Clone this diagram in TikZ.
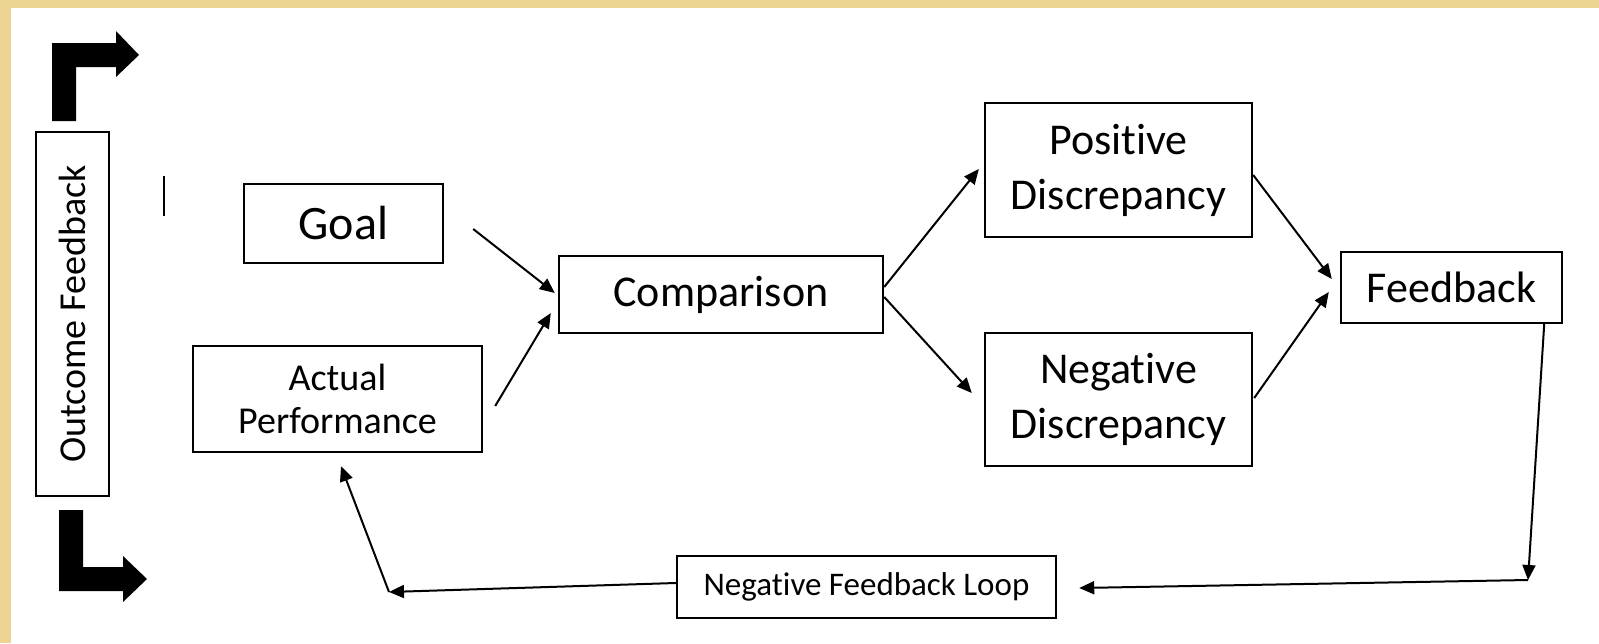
\documentclass[tikz,border=0pt]{standalone}
\usepackage{fontspec}
\setmainfont{Carlito}[RawFeature={-liga,-clig,-calt,-dlig,-rlig}]
\usetikzlibrary{calc,arrows.meta}
\definecolor{parch}{RGB}{236,212,146}
% keep t and i as separate glyphs
\newcommand{\tisep}{t\kern0pt i}
\tikzset{
  box/.style={draw=black, line width=1.2pt, fill=white, inner sep=0pt, align=center},
  conn/.style={line width=1pt, -{Triangle[length=7.5pt,width=6.5pt]}},
  bigtxt/.style={font=\fontsize{24}{29}\selectfont},
  midtxt/.style={font=\fontsize{22}{27.5}\selectfont},
  smalltxt/.style={font=\fontsize{19}{21.5}\selectfont},
  tinytxt/.style={font=\fontsize{16.5}{20}\selectfont},
}
\begin{document}
\begin{tikzpicture}[x=0.5pt,y=-0.5pt]
  % page background with parchment edge
  \useasboundingbox (0,0) rectangle (1599,643);
  \fill[white] (0,0) rectangle (1599,643);
  \fill[parch] (0,0) rectangle (1599,8);
  \fill[parch] (0,0) rectangle (11,643);

  % boxes
  \node[box, minimum width=36.5pt, minimum height=182pt] (outcome) at (72.5,314)
    {\rotatebox{90}{\fontsize{19}{22}\selectfont Outcome Feedback}};
  \node[box, bigtxt, minimum width=99.5pt, minimum height=39.5pt] (goal) at (343.5,223.5) {Goal};
  \node[box, smalltxt, minimum width=144.5pt, minimum height=53pt] (actual) at (337.5,399) {Actual\\Performance};
  \node[box, midtxt, minimum width=162pt, minimum height=38.5pt] (comp) at (721,294.5) {Comparison};
  \node[box, midtxt, minimum width=133.5pt, minimum height=67pt] (pos) at (1118.5,170) {Posi\tisep ve\\Discrepancy};
  \node[box, midtxt, minimum width=133.5pt, minimum height=66.5pt] (neg) at (1118.5,399.5) {Nega\tisep ve\\Discrepancy};
  \node[box, midtxt, minimum width=110.5pt, minimum height=35.5pt] (fb) at (1451.5,287.5) {Feedback};
  \node[box, tinytxt, minimum width=189.5pt, minimum height=31pt] (nfl) at (866.5,587) {Nega\tisep ve Feedback Loop};

  % bent block arrows beside the outcome box
  \fill[black] (52,121) -- (52,43) -- (116,43) -- (116,31) -- (139,55) -- (116,77)
               -- (116,67) -- (76,67) -- (76,121) -- cycle;
  \fill[black] (59,510) -- (59,591) -- (123,591) -- (123,602) -- (147,579) -- (123,556)
               -- (123,567) -- (83,567) -- (83,510) -- cycle;

  % short stroke left of the goal box
  \draw[line width=1pt] (164,176) -- (164,216);

  % forward connectors
  \draw[conn] ($(goal.east)+(29,5.5)$) -- ($(comp.west)+(-3,-1.5)$);
  \draw[conn] ($(actual.east)+(12,7)$) -- ($(comp.west)+(-7,18.5)$);
  \draw[conn] ($(comp.east)+(0,-7.5)$) -- ($(pos.west)+(-5,-1)$);
  \draw[conn] ($(comp.east)+(0,2.5)$) -- ($(neg.west)+(-12,-6.5)$);
  \draw[conn] ($(pos.east)+(0,5)$) -- ($(fb.west)+(-8,-8.5)$);
  \draw[conn] ($(neg.east)+(1,-1.5)$) -- ($(fb.west)+(-11,4.5)$);

  % return loop
  \coordinate (turnR) at (1528,580);
  \coordinate (turnL) at (389,592);
  \draw[conn] ($(fb.south east)+(-19,0)$) -- (turnR);
  \draw[conn] (turnR) -- ($(nfl.east)+(22,1)$);
  \draw[conn] ($(nfl.west)+(0,-4)$) -- (turnL);
  \draw[conn] (turnL) -- ($(actual.south)+(3.5,13)$);
\end{tikzpicture}
\end{document}
